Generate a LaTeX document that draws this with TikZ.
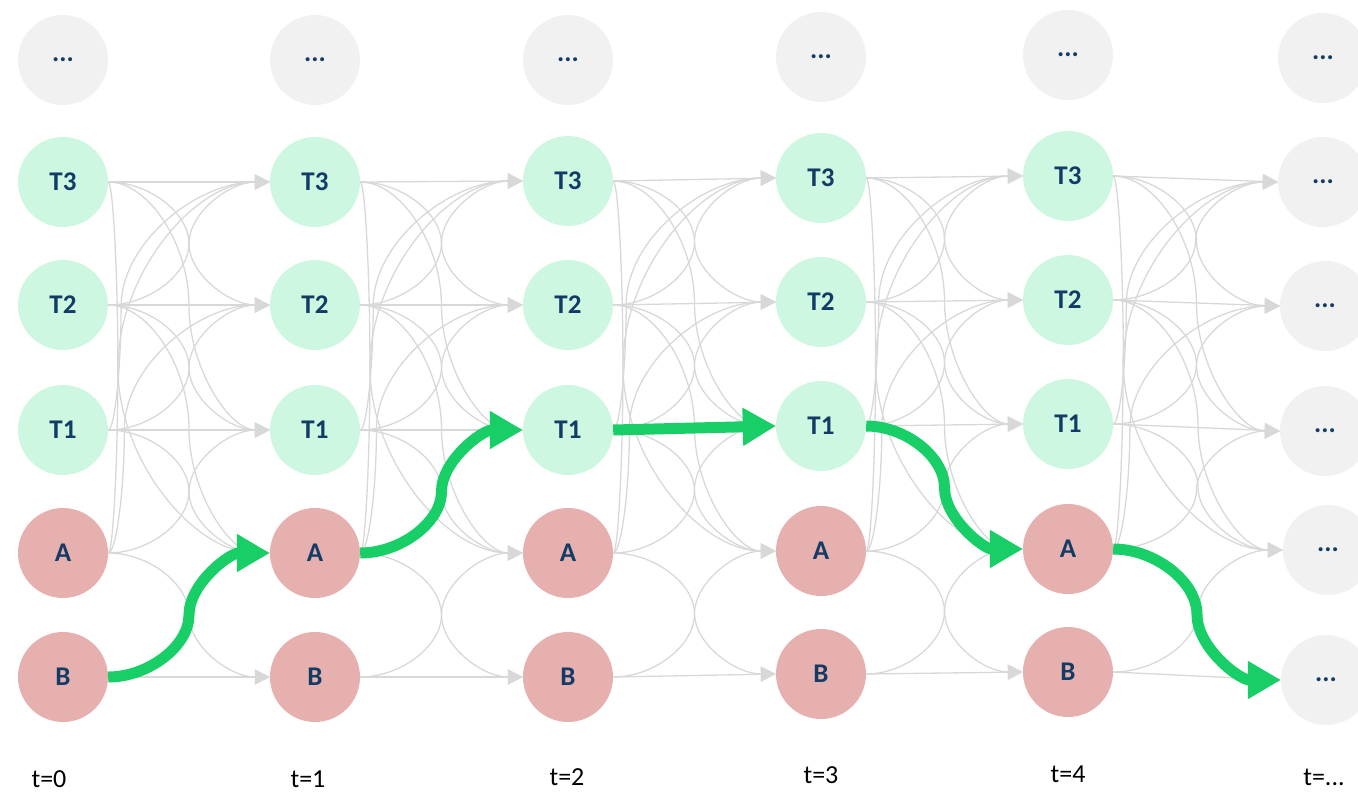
\documentclass[tikz,border=0pt]{standalone}
\usepackage{fontspec}
\setmainfont{Carlito}
\usetikzlibrary{arrows.meta,calc}
\definecolor{tgreen}{RGB}{206,247,225}
\definecolor{tred}{RGB}{230,176,175}
\definecolor{tgray}{RGB}{241,241,241}
\definecolor{tline}{RGB}{216,216,216}
\definecolor{tarrow}{RGB}{24,206,102}
\definecolor{ttext}{RGB}{18,60,102}
\tikzset{
  nd/.style={circle,minimum size=90pt,inner sep=0pt,font=\bfseries\fontsize{27}{27}\selectfont,text=ttext},
  tn/.style={nd,fill=tgreen},
  rn/.style={nd,fill=tred},
  dn/.style={nd,fill=tgray},
  tlab/.style={font=\fontsize{26}{26}\selectfont,text=black},
  gline/.style={draw=tline,line width=1.3pt,-{Triangle[length=15pt,width=15pt]}},
  garrow/.style={draw=tarrow,line width=11pt,-{Triangle[length=33pt,width=36pt]}},
}
\newcommand\conn[4][gline]{%
 \draw[#1] let \p1=(#2.east), \p2=(#3.west),
   \n1={\x1+#4*(\x2-\x1)}, \n2={(\y1+\y2)/2} in
   (\p1) .. controls ({(\x1+\n1)/2},\y1) and (\n1,{(\y1+\n2)/2}) .. (\n1,\n2)
   .. controls (\n1,{(\n2+\y2)/2}) and ({(\n1+\x2)/2},\y2) .. (\p2);}
\begin{document}
\begin{tikzpicture}[x=1pt,y=1pt]
\useasboundingbox (0,0) rectangle (1358,-793);
\clip (0,0) rectangle (1358,-793);
% column a (t=0)
\node[dn] (Da)  at (63,-60)  {...};
\node[tn] (T3a) at (63,-182) {T3};
\node[tn] (T2a) at (63,-305) {T2};
\node[tn] (T1a) at (63,-430) {T1};
\node[rn] (Aa)  at (63,-553) {A};
\node[rn] (Ba)  at (63,-677) {B};
% column b (t=1)
\node[dn] (Db)  at (315,-60)  {...};
\node[tn] (T3b) at (315,-182) {T3};
\node[tn] (T2b) at (315,-305) {T2};
\node[tn] (T1b) at (315,-430) {T1};
\node[rn] (Ab)  at (315,-553) {A};
\node[rn] (Bb)  at (315,-677) {B};
% column c (t=2)
\node[dn] (Dc)  at (568,-60)  {...};
\node[tn] (T3c) at (568,-181) {T3};
\node[tn] (T2c) at (568,-305) {T2};
\node[tn] (T1c) at (568,-430) {T1};
\node[rn] (Ac)  at (568,-553) {A};
\node[rn] (Bc)  at (568,-677) {B};
% column d (t=3)
\node[dn] (Dd)  at (821,-57)  {...};
\node[tn] (T3d) at (821,-178) {T3};
\node[tn] (T2d) at (821,-302) {T2};
\node[tn] (T1d) at (821,-426) {T1};
\node[rn] (Ad)  at (821,-551) {A};
\node[rn] (Bd)  at (821,-674) {B};
% column e (t=4)
\node[dn] (De)  at (1068,-55)  {...};
\node[tn] (T3e) at (1068,-176) {T3};
\node[tn] (T2e) at (1068,-300) {T2};
\node[tn] (T1e) at (1068,-424) {T1};
\node[rn] (Ae)  at (1068,-549) {A};
\node[rn] (Be)  at (1068,-672) {B};
% column f (t=...)
\node[dn] (Df)  at (1323,-58)  {...};
\node[dn] (T3f) at (1323,-182) {...};
\node[dn] (T2f) at (1325,-306) {...};
\node[dn] (T1f) at (1325,-431) {...};
\node[dn] (Af)  at (1328,-550) {...};
\node[dn] (Bf)  at (1326,-680) {...};
% time labels
\node[tlab] (La) at (49,-779)   {t=0};
\node[tlab] (Lb) at (308,-779)  {t=1};
\node[tlab] (Lc) at (567,-777)  {t=2};
\node[tlab] (Ld) at (821,-775)  {t=3};
\node[tlab] (Le) at (1068,-774) {t=4};
\node[tlab] (Lf) at (1324,-777) {t=...};
% transitions
\foreach \s/\t in {a/b,b/c,c/d,d/e,e/f}{
  \draw[gline] (T3\s.east) -- (T3\t.west);
  \conn{T3\s}{T2\t}{.5}
  \conn{T3\s}{T1\t}{.5}
  \conn{T3\s}{A\t}{.06}
  \conn{T2\s}{T3\t}{.5}
  \draw[gline] (T2\s.east) -- (T2\t.west);
  \conn{T2\s}{T1\t}{.5}
  \conn{T2\s}{A\t}{.5}
  \conn{T1\s}{T3\t}{.08}
  \conn{T1\s}{T2\t}{.5}
  \draw[gline] (T1\s.east) -- (T1\t.west);
  \conn{T1\s}{A\t}{.5}
  \conn{A\s}{T3\t}{.06}
  \conn{A\s}{T2\t}{.1}
  \conn{A\s}{T1\t}{.5}
  \conn{A\s}{B\t}{.5}
  \conn{B\s}{A\t}{.5}
  \draw[gline] (B\s.east) -- (B\t.west);
}
% highlighted path
\conn[garrow]{Ba}{Ab}{.5}
\conn[garrow]{Ab}{T1c}{.5}
\draw[garrow] (T1c.east) -- (T1d.west);
\conn[garrow]{T1d}{Ae}{.5}
\conn[garrow]{Ae}{Bf}{.5}
\end{tikzpicture}
\end{document}
